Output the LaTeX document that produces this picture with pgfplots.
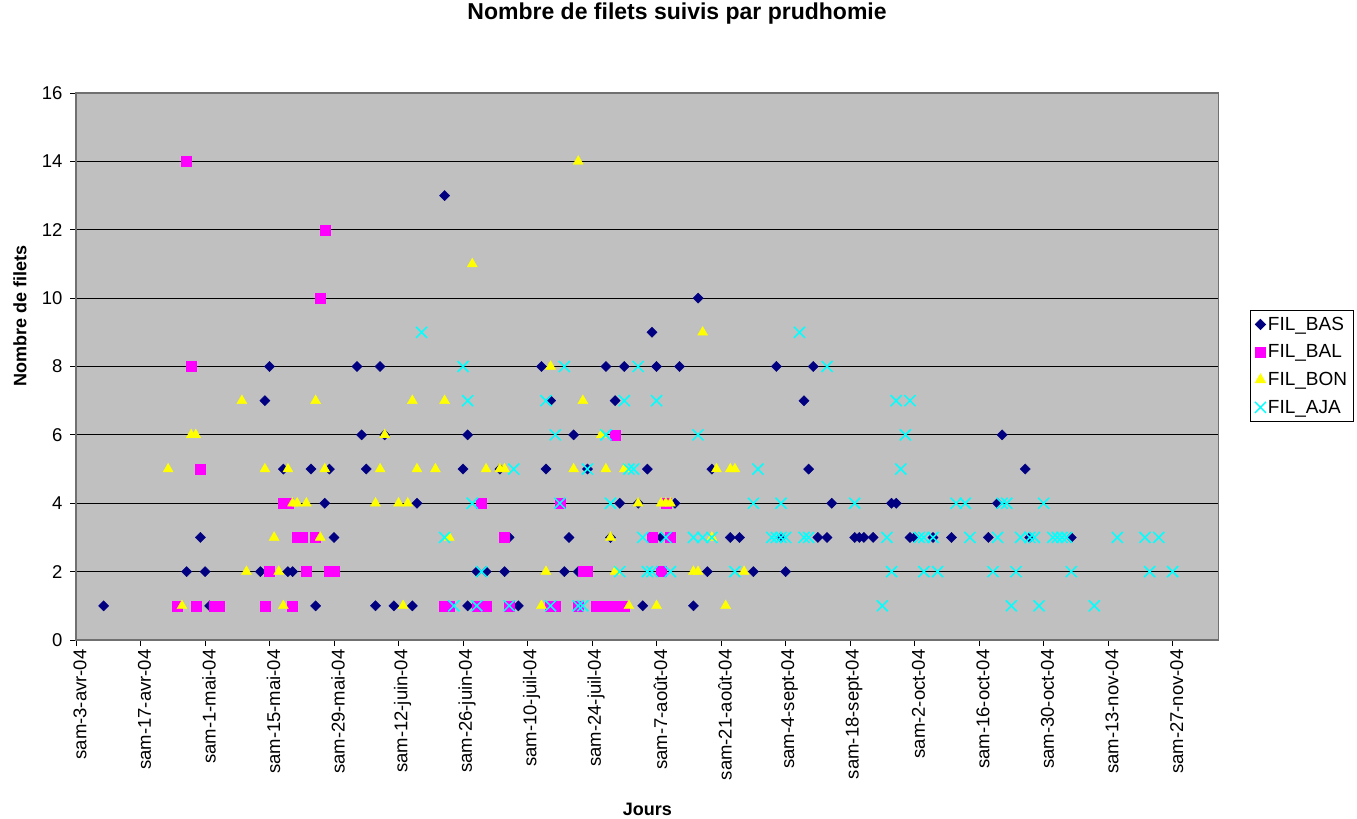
\documentclass[border=0pt]{standalone}
\usepackage{fontspec}
\setmainfont{Liberation Sans}
\usepackage{pgfplots}
\pgfplotsset{compat=1.18}
\definecolor{bas}{HTML}{000080}
\definecolor{bal}{HTML}{FF00FF}
\definecolor{bon}{HTML}{FFFF00}
\definecolor{aja}{HTML}{00FFFF}
\definecolor{plotbg}{HTML}{C0C0C0}
\definecolor{frame}{HTML}{707070}
\begin{document}
\begin{tikzpicture}
\useasboundingbox (0,0) rectangle (1357bp,819bp);
\begin{axis}[
  at={(76bp,179bp)}, anchor=south west,
  scale only axis, width=1142.7bp, height=547bp,
  xmin=0, xmax=248, ymin=0, ymax=16,
  axis background/.style={fill=plotbg},
  axis line style={draw=frame, line width=1.3bp},
  ytick={0,2,...,16},
  xtick={0,14,...,238},
  xticklabels={sam-3-avr-04,sam-17-avr-04,sam-1-mai-04,sam-15-mai-04,sam-29-mai-04,sam-12-juin-04,sam-26-juin-04,sam-10-juil-04,sam-24-juil-04,sam-7-août-04,sam-21-août-04,sam-4-sept-04,sam-18-sept-04,sam-2-oct-04,sam-16-oct-04,sam-30-oct-04,sam-13-nov-04,sam-27-nov-04},
  tick align=outside, major tick length=6bp,
  tick style={black, line width=0.8bp},
  xtick pos=bottom, ytick pos=left,
  ymajorgrids, grid style={black, line width=0.8bp},
  /pgf/number format/assume math mode=true,
  tick label style={font=\fontsize{18.5bp}{21bp}\selectfont},
  xticklabel style={rotate=90, anchor=east, xshift=0bp, yshift=-4bp},
  yticklabel style={xshift=-4bp},
  title={Nombre de filets suivis par prudhomie},
  title style={at={(axis description cs:0.526,1.135)}, anchor=center, font=\bfseries\fontsize{23bp}{26bp}\selectfont},
  xlabel={Jours},
  xlabel style={at={(axis description cs:0.5,-0.309)}, anchor=center, font=\bfseries\fontsize{18bp}{21bp}\selectfont},
  ylabel={Nombre de filets},
  ylabel style={at={(axis description cs:-0.049,0.592)}, anchor=center, font=\bfseries\fontsize{18bp}{21bp}\selectfont},
  legend style={at={(axis description cs:1.0274,0.603)}, anchor=north west, draw=black, fill=white, line width=0.8bp,
    font=\fontsize{19bp}{21bp}\selectfont, row sep=9bp, inner sep=4.5bp},
  legend cell align=left,
  legend image code/.code={\draw[mark repeat=2,mark phase=2] plot coordinates {(0bp,0bp)(7bp,0bp)(14bp,0bp)};},
  clip=false,
]
% FIL_BAS
\addplot[only marks, mark=square*, mark size=3.6bp, mark options={rotate=45, draw=bas, fill=bas}] table {
x y
6 1
29 1
52 1
65 1
69 1
73 1
85 1
96 1
123 1
134 1
24 2
28 2
40 2
46 2
47 2
87 2
89 2
93 2
106 2
109 2
137 2
147 2
154 2
27 3
56 3
94 3
107 3
116 3
127 3
142 3
144 3
153 3
161 3
163 3
169 3
170 3
171 3
173 3
181 3
182 3
186 3
190 3
198 3
207 3
216 3
54 4
74 4
118 4
122 4
130 4
164 4
177 4
178 4
200 4
45 5
51 5
55 5
63 5
84 5
92 5
102 5
111 5
124 5
138 5
159 5
206 5
62 6
67 6
85 6
108 6
201 6
41 7
103 7
117 7
158 7
42 8
61 8
66 8
101 8
115 8
119 8
126 8
131 8
152 8
160 8
125 9
135 10
80 13
};
\addlegendentry{FIL\_BAS}
% FIL_BAL
\addplot[only marks, mark=square*, mark size=5bp, mark options={draw=bal, fill=bal}] table {
x y
22 1
26 1
30 1
31 1
41 1
47 1
80 1
81 1
87 1
89 1
94 1
103 1
104 1
109 1
113 1
114 1
115 1
116 1
117 1
118 1
119 1
42 2
50 2
55 2
56 2
110 2
111 2
127 2
48 3
49 3
52 3
93 3
125 3
129 3
45 4
46 4
88 4
105 4
128 4
27 5
117 6
25 8
53 10
54 12
24 14
};
\addlegendentry{FIL\_BAL}
% FIL_BON
\addplot[only marks, mark=triangle*, mark size=5.8bp, mark options={draw=bon, fill=bon}] table {
x y
23 1
45 1
71 1
101 1
120 1
126 1
141 1
37 2
44 2
102 2
117 2
134 2
135 2
145 2
43 3
53 3
81 3
116 3
138 3
47 4
48 4
50 4
65 4
70 4
72 4
122 4
127 4
128 4
129 4
20 5
41 5
46 5
54 5
66 5
74 5
78 5
89 5
92 5
93 5
108 5
115 5
119 5
139 5
142 5
143 5
25 6
26 6
67 6
114 6
36 7
52 7
73 7
80 7
110 7
103 8
136 9
86 11
109 14
};
\addlegendentry{FIL\_BON}
% FIL_AJA
\addplot[only marks, mark=x, mark size=7.8bp, mark options={draw=aja, line width=1.5bp}] table {
x y
82 1
87 1
94 1
103 1
109 1
110 1
175 1
203 1
209 1
221 1
88 2
118 2
124 2
125 2
129 2
143 2
177 2
184 2
187 2
199 2
204 2
216 2
233 2
238 2
80 3
123 3
128 3
134 3
136 3
138 3
151 3
152 3
153 3
154 3
158 3
159 3
176 3
183 3
184 3
186 3
194 3
200 3
205 3
207 3
208 3
212 3
213 3
214 3
215 3
226 3
232 3
235 3
86 4
105 4
116 4
147 4
153 4
169 4
191 4
193 4
201 4
202 4
210 4
95 5
111 5
120 5
121 5
148 5
179 5
104 6
115 6
135 6
180 6
85 7
102 7
119 7
126 7
178 7
181 7
84 8
106 8
122 8
163 8
75 9
157 9
};
\addlegendentry{FIL\_AJA}
\end{axis}
\end{tikzpicture}
\end{document}
